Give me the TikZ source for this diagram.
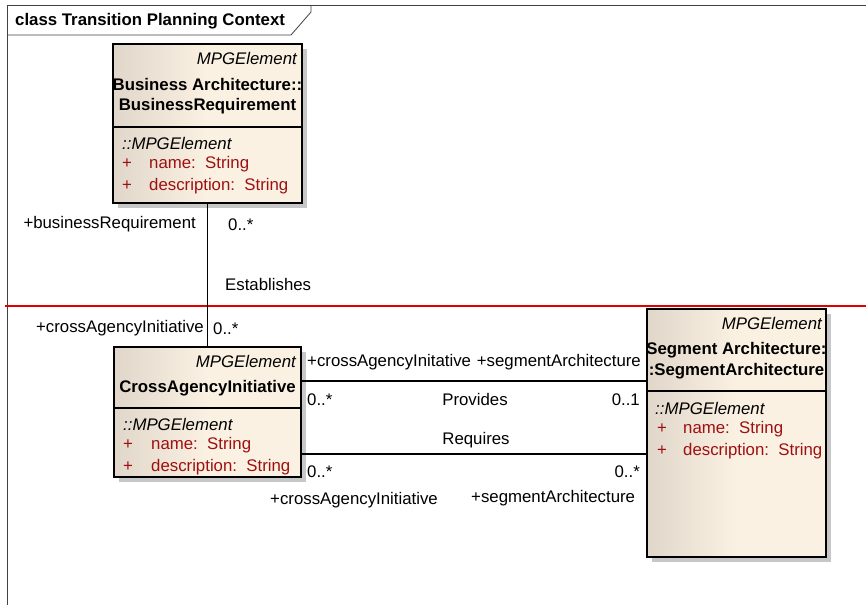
\documentclass[tikz,border=0pt]{standalone}
\usepackage{fontspec}
\setmainfont{Liberation Sans}
\usetikzlibrary{positioning,calc,shadows}

\definecolor{boxleft}{HTML}{E0D6C9}
\definecolor{boxright}{HTML}{FBF1E3}
\definecolor{attrred}{HTML}{9E1010}
\definecolor{partred}{HTML}{E00000}
\definecolor{framegray}{HTML}{404040}
\newcommand{\umlfont}{\fontsize{16.8}{20}\selectfont}

\tikzset{
    classbox/.style={draw=black, line width=1.3pt, anchor=north west, inner sep=0pt, outer sep=0pt,
        left color=boxleft, right color=boxright, middle color=boxright,
        general shadow={fill=black!22, shadow xshift=5pt, shadow yshift=-5pt}},
    divider/.style={draw=black, line width=1.3pt},
    stereo/.style={font=\umlfont\itshape, anchor=east, inner sep=0pt},
    classname/.style={font=\umlfont\bfseries, inner sep=0pt},
    attrib/.style={font=\umlfont, text=attrred, anchor=west, inner sep=0pt, yshift=-1.5pt},
    rolelabel/.style={font=\umlfont, inner sep=0pt, yshift=-1.5pt},
    assoc/.style={draw=black, line width=1.3pt},
}

\begin{document}
\begin{tikzpicture}[x=1pt, y=-1pt]
    \useasboundingbox (0,0) rectangle (866,605);

    % frame and title tab
    \draw[framegray, line width=1pt] (866,5) -- (7,5) -- (7,605);
    \draw[framegray, line width=0.8pt] (7,35) -- (291,35) -- (311,12) -- (311,5);
    \node[classname, anchor=west] (title) at (15,21) {class Transition Planning Context};

    % partition
    \draw[partred, line width=1.5pt] (5,306) -- (866,306);

    % classes
    \node[classbox, minimum width=189pt, minimum height=159pt] (busreq) at (113,44) {};
    \draw[divider] ($(busreq.north west)+(0,83)$) -- ($(busreq.north east)+(0,83)$);
    \node[stereo] (busreqst) at (297,58) {MPGElement};
    \node[classname] (busreqn1) at (207.5,84) {Business Architecture::};
    \node[classname] (busreqn2) at (207.5,106) {BusinessRequirement};
    \node[attrib, text=black, font=\umlfont\itshape] (busreqa0) at (122,142) {::MPGElement};
    \node[attrib] (busreqa1) at (122,163) {\makebox[27pt][l]{+}name:\ \ String};
    \node[attrib] (busreqa2) at (122,185) {\makebox[27pt][l]{+}description:\ \ String};

    \node[classbox, minimum width=187pt, minimum height=130pt] (cai) at (114,347) {};
    \draw[divider] ($(cai.north west)+(0,61)$) -- ($(cai.north east)+(0,61)$);
    \node[stereo] (caist) at (296,361) {MPGElement};
    \node[classname] (cain) at (207.5,388) {CrossAgencyInitiative};
    \node[attrib, text=black, font=\umlfont\itshape] (caia0) at (123,423) {::MPGElement};
    \node[attrib] (caia1) at (123,444) {\makebox[28pt][l]{+}name:\ \ String};
    \node[attrib] (caia2) at (123,466) {\makebox[28pt][l]{+}description:\ \ String};

    \node[classbox, minimum width=179pt, minimum height=248pt] (segarch) at (647,309) {};
    \draw[divider] ($(segarch.north west)+(0,82)$) -- ($(segarch.north east)+(0,82)$);
    \node[stereo] (segarchst) at (822,323) {MPGElement};
    \node[classname] (segarchn1) at (736.5,350) {Segment Architecture:};
    \node[classname] (segarchn2) at (736.5,371) {:SegmentArchitecture};
    \node[attrib, text=black, font=\umlfont\itshape] (segarcha0) at (655,407) {::MPGElement};
    \node[attrib] (segarcha1) at (657,428) {\makebox[26pt][l]{+}name:\ \ String};
    \node[attrib] (segarcha2) at (657,450) {\makebox[26pt][l]{+}description:\ \ String};

    % Associations
    \draw[assoc] (busreq.south) -- (cai.north);
    \draw[assoc] ($(cai.north east)+(0,34)$) coordinate (prov) -- (prov -| segarch.west);
    \draw[assoc] ($(cai.south east)+(0,-23)$) coordinate (req) -- (req -| segarch.west);

    % Establishes
    \node[rolelabel, anchor=east] (estrole1) at (196,223) {+businessRequirement};
    \node[rolelabel, anchor=west] (estmult1) at (228,223) {0..*};
    \node[rolelabel, anchor=west] (estname) at (225,283) {Establishes};
    \node[rolelabel, anchor=east] (estrole2) at (204,327) {+crossAgencyInitiative};
    \node[rolelabel, anchor=west] (estmult2) at (213,327) {0..*};

    % Provides
    \node[rolelabel, anchor=west] (provrole1) at (307,361) {+crossAgencyInitative};
    \node[rolelabel, anchor=east] (provrole2) at (641,361) {+segmentArchitecture};
    \node[rolelabel, anchor=west] (provmult1) at (307,398) {0..*};
    \node[rolelabel] (provname) at (475,398) {Provides};
    \node[rolelabel, anchor=east] (provmult2) at (640,398) {0..1};

    % Requires
    \node[rolelabel] (reqname) at (476,439) {Requires};
    \node[rolelabel, anchor=west] (reqmult1) at (307,470) {0..*};
    \node[rolelabel, anchor=east] (reqmult2) at (640,470) {0..*};
    \node[rolelabel, anchor=west] (reqrole1) at (270,499) {+crossAgencyInitiative};
    \node[rolelabel, anchor=west] (reqrole2) at (471,497) {+segmentArchitecture};
\end{tikzpicture}
\end{document}
